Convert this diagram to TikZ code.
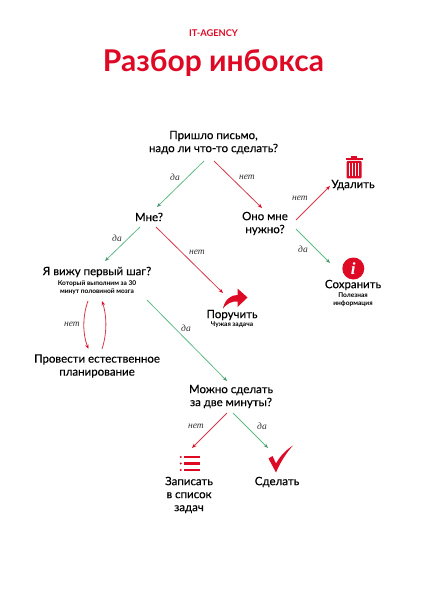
\documentclass[tikz,border=0pt]{standalone}
\usepackage{fontspec}
\setmainfont[FakeBold=0.25]{Lato}
\newfontfamily\titlefont[BoldFont={Lato Bold}]{Lato}
\newfontfamily\lblfont{Liberation Serif}
\usetikzlibrary{arrows.meta}
\definecolor{brand}{HTML}{DE0A25}
\definecolor{arrred}{HTML}{D8394B}
\definecolor{arrgreen}{HTML}{62BC88}
\tikzset{
  x=1pt,y=-1pt,
  txt/.style={align=center,inner sep=0pt,text=black,font=\fontsize{11.5}{13}\selectfont},
  sub/.style={align=center,inner sep=0pt,text=black,font=\titlefont\bfseries\fontsize{6.6}{8}\selectfont},
  lbl/.style={inner sep=0pt,text=black!80,font=\lblfont\itshape\fontsize{9.5}{10}\selectfont},
  yes/.style={draw=arrgreen,line width=0.8pt,-{Stealth[length=4.5pt,width=3.5pt,color=arrgreen!80!black]}},
  no/.style={draw=arrred,line width=0.8pt,-{Stealth[length=4.5pt,width=3.5pt,color=brand]}},
}
\begin{document}
\begin{tikzpicture}
\fill[white] (0,0) rectangle (427,604);
\useasboundingbox (0,0) rectangle (427,604);
\node[inner sep=0pt,text=brand,font=\titlefont\bfseries\fontsize{9.3}{11}\selectfont] (brandname) at (213.5,33) {IT-AGENCY};
\node[inner sep=0pt,text=brand,font=\titlefont\bfseries\fontsize{30}{32}\selectfont,anchor=base] (title) at (213.5,72) {Разбор инбокса};

\node[txt] (q1) at (213.5,142.5) {Пришло письмо,\\надо ли что-то сделать?};
\node[txt] (me) at (149,217) {Мне?};
\node[txt] (need) at (265,223.5) {Оно мне\\нужно?};
\node[txt] (del) at (353,185) {Удалить};
\node[txt] (save) at (353,285) {Сохранить};
\node[sub] (savesub) at (353,300) {Полезная\\информация};
\node[txt] (step) at (97,272) {Я вижу первый шаг?};
\node[sub] (stepsub) at (97,288) {Который выполним за 30\\минут половиной мозга};
\node[txt] (plan) at (97,366) {Провести естественное\\планирование};
\node[txt] (deleg) at (232,315) {Поручить};
\node[sub] (delegsub) at (232,325) {Чужая задача};
\node[txt] (two) at (231,396.5) {Можно сделать\\за две минуты?};
\node[txt] (list) at (189,495) {Записать\\в список\\задач};
\node[txt] (do) at (277,482) {Сделать};

\draw[yes] ([shift={(-9.5,18.5)}]q1.center) -- ([shift={(8,-10)}]me.center);
\draw[no] ([shift={(0.5,18.5)}]q1.center) -- ([shift={(-3,-15.5)}]need.center);
\draw[no] ([shift={(31,-3.5)}]need.center) -- ([shift={(-23,1)}]del.center);
\draw[yes] ([shift={(31,5.5)}]need.center) -- ([shift={(-23,-22)}]save.center);
\draw[yes] ([shift={(-9,10)}]me.center) -- ([shift={(8,-11)}]step.center);
\draw[no] ([shift={(7,10)}]me.center) -- ([shift={(-9,-22)}]deleg.center);
\draw[yes] ([shift={(50,12)}]stepsub.center) -- ([shift={(-4,-15.5)}]two.center);
\draw[no] ([shift={(-9,13)}]stepsub.center) .. controls ([shift={(-14.5,28)}]stepsub.center) and ([shift={(-14.5,46)}]stepsub.center) .. ([shift={(-8.5,-17)}]plan.center);
\draw[no] ([shift={(5,-17)}]plan.center) .. controls ([shift={(10,-32)}]plan.center) and ([shift={(10,-50)}]plan.center) .. ([shift={(5,13)}]stepsub.center);
\draw[no] ([shift={(-4,16.5)}]two.center) -- ([shift={(3,-47)}]list.center);
\draw[yes] ([shift={(2,16.5)}]two.center) -- ([shift={(-9,-34)}]do.center);

\node[lbl] (l1) at (175,177) {да};
\node[lbl] (l2) at (247,177) {нет};
\node[lbl] (l3) at (300,198) {нет};
\node[lbl] (l4) at (303,249) {да};
\node[lbl] (l5) at (117,238) {да};
\node[lbl] (l6) at (197,252) {нет};
\node[lbl] (l7) at (72,324) {нет};
\node[lbl] (l8) at (186,328) {да};
\node[lbl] (l9) at (196,426) {нет};
\node[lbl] (l10) at (262,426) {да};

% trash icon
\fill[brand] (351,156.5) rectangle (357,158);
\fill[brand] (345.5,158) rectangle (362.5,160.2);
\fill[brand,rounded corners=1pt] (346.5,161) rectangle (361.5,178.3);
\foreach \xx in {349.5,352.5,355.5,358.5}
  \fill[white] (\xx-0.4,163) rectangle (\xx+0.4,176);

% info icon
\fill[brand] (353.3,268.5) circle (11);
\node[inner sep=0pt,text=white,font=\lblfont\bfseries\itshape\fontsize{17}{17}\selectfont] (infoi) at (353.3,268.5) {i};

% forward arrow icon
\fill[brand] (223,308.5) .. controls (225,299) and (231,295) .. (237.5,295)
  -- (237.5,288.5) -- (247.5,297.5) -- (237.5,307) -- (237.5,301.5)
  .. controls (231,301) and (227,304) .. (223,308.5) -- cycle;

% list icon
\foreach \yy in {457,463.5,470}{
  \fill[brand] (184,\yy-1.1) rectangle (199.5,\yy+1.1);
  \fill[brand] (180.8,\yy) circle (1.1);
}

% check icon
\fill[brand] (268.5,458.5) -- (272.5,456) -- (276,463.5) .. controls (280,456) and (286,450) .. (293,445.5)
  .. controls (286,453) and (280,463) .. (276,472.5) -- cycle;
\end{tikzpicture}
\end{document}
